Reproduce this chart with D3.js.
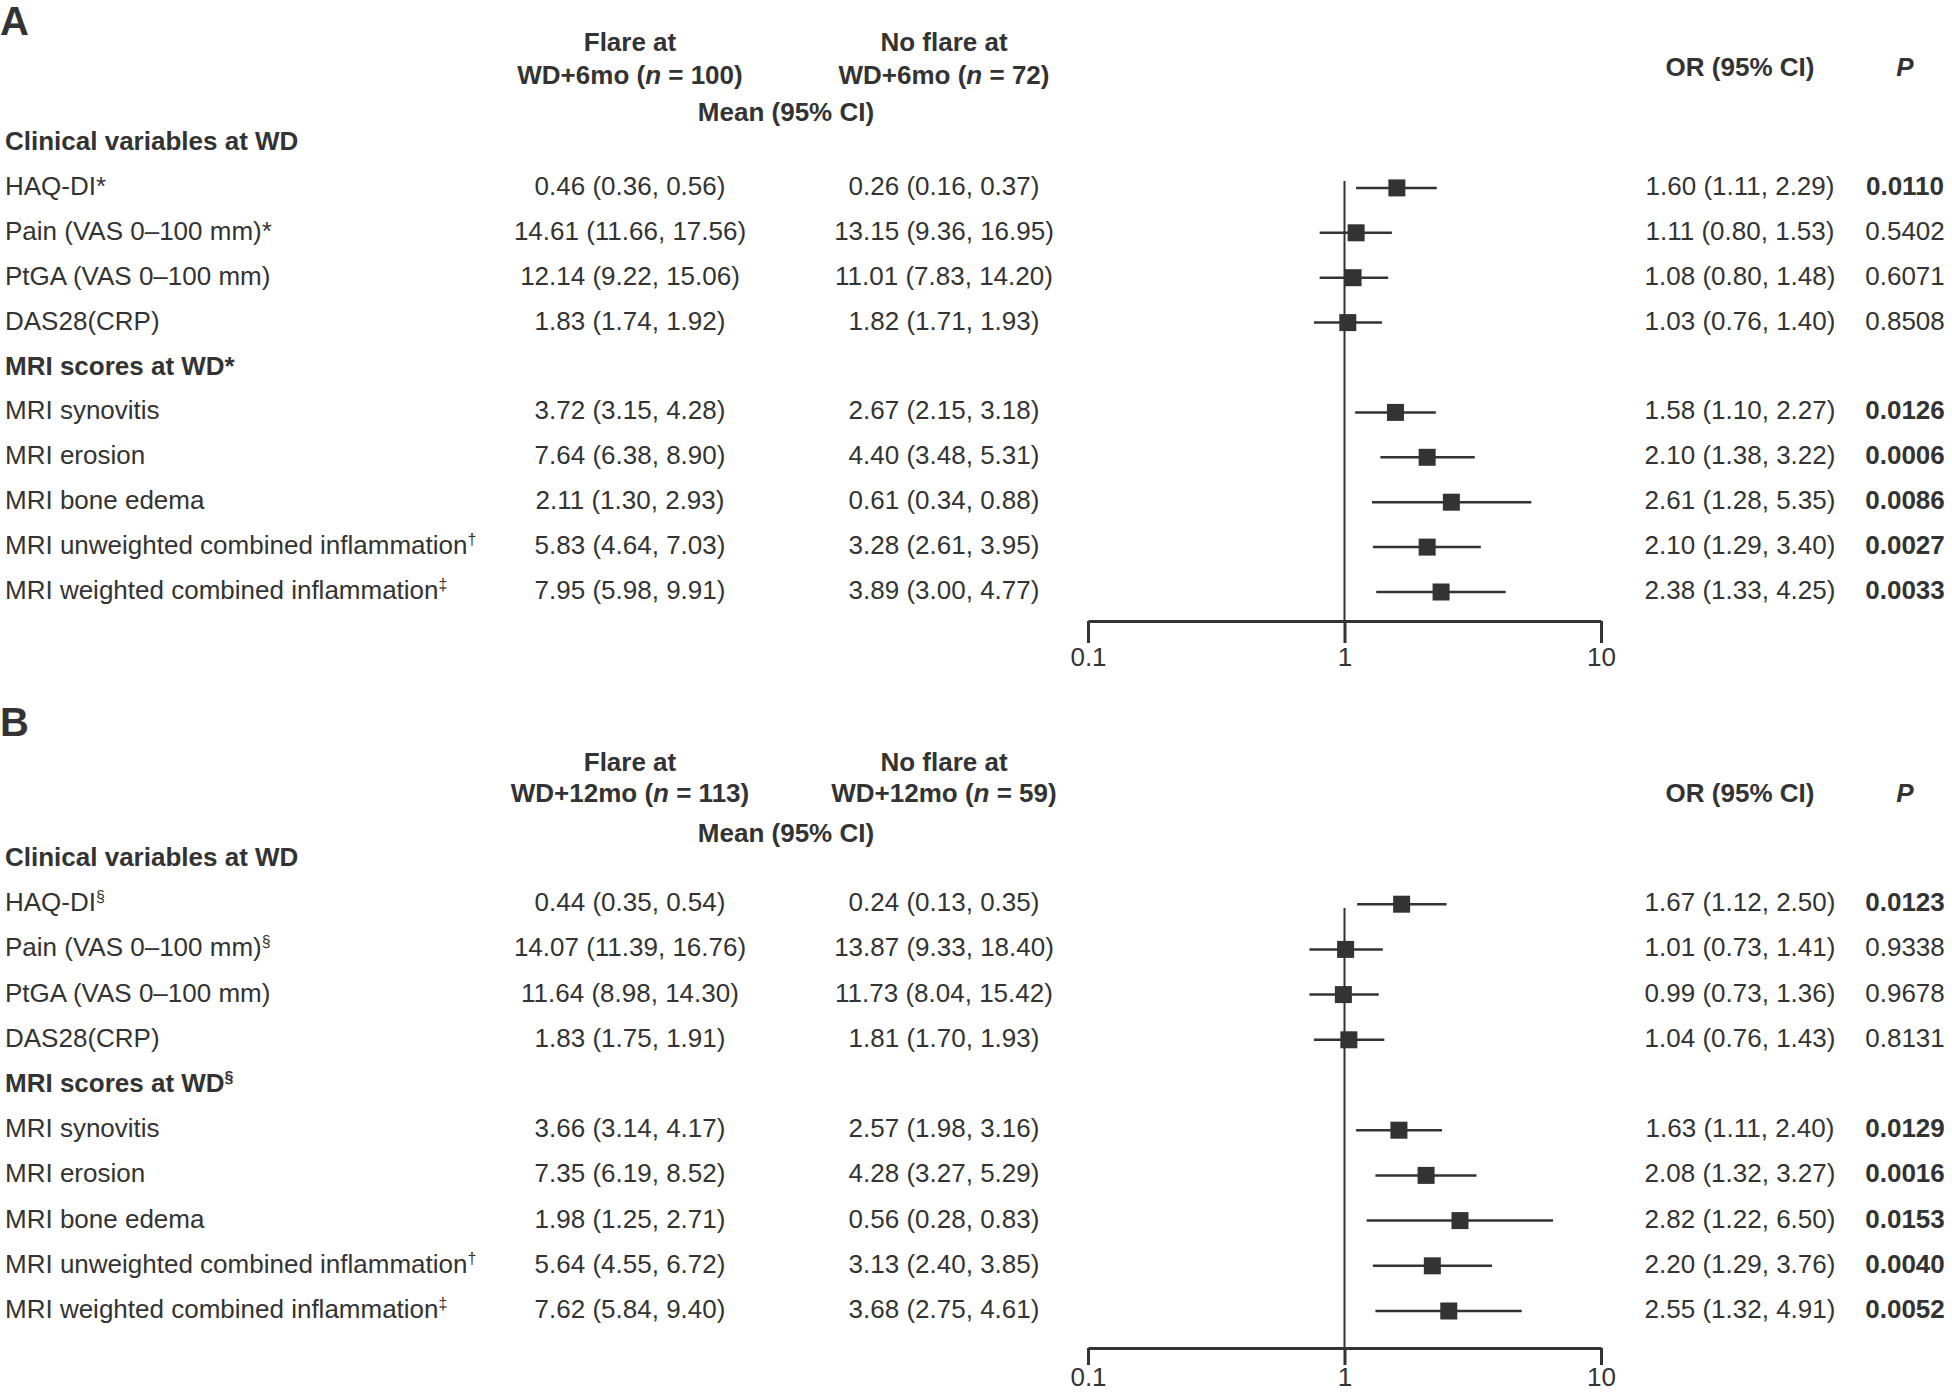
<!DOCTYPE html>
<html>
<head>
<meta charset="utf-8">
<script src="https://cdn.jsdelivr.net/npm/d3@7"></script>
<style>
  body { margin: 0; background: #fff; }
  svg text { font-family: "Liberation Sans", Arial, sans-serif; fill: #333; }
</style>
</head>
<body>
<svg id="chart" width="1952" height="1396"></svg>
<script>
//-- DATA --\\
var rowLabels = ["HAQ-DI", "Pain (VAS 0\u2013100 mm)", "PtGA (VAS 0\u2013100 mm)", "DAS28(CRP)",
                 "MRI synovitis", "MRI erosion", "MRI bone edema",
                 "MRI unweighted combined inflammation", "MRI weighted combined inflammation"];
var sectionLabels = ["Clinical variables at WD", "MRI scores at WD"];
var tickValues = [0.1, 1, 10];

// panel A (WD+6mo)
var marksA = ["*", "*", "", "", "", "", "", "\u2020", "\u2021"];
var sectionMarksA = ["", "*"];
var groupA = ["WD+6mo", "100", "72"];
var flareMeanA = [0.46, 14.61, 12.14, 1.83, 3.72, 7.64, 2.11, 5.83, 7.95];
var flareLoA   = [0.36, 11.66, 9.22, 1.74, 3.15, 6.38, 1.30, 4.64, 5.98];
var flareHiA   = [0.56, 17.56, 15.06, 1.92, 4.28, 8.90, 2.93, 7.03, 9.91];
var noFlareMeanA = [0.26, 13.15, 11.01, 1.82, 2.67, 4.40, 0.61, 3.28, 3.89];
var noFlareLoA   = [0.16, 9.36, 7.83, 1.71, 2.15, 3.48, 0.34, 2.61, 3.00];
var noFlareHiA   = [0.37, 16.95, 14.20, 1.93, 3.18, 5.31, 0.88, 3.95, 4.77];
var orA   = [1.60, 1.11, 1.08, 1.03, 1.58, 2.10, 2.61, 2.10, 2.38];
var orLoA = [1.11, 0.80, 0.80, 0.76, 1.10, 1.38, 1.28, 1.29, 1.33];
var orHiA = [2.29, 1.53, 1.48, 1.40, 2.27, 3.22, 5.35, 3.40, 4.25];
var pA    = [0.0110, 0.5402, 0.6071, 0.8508, 0.0126, 0.0006, 0.0086, 0.0027, 0.0033];

// panel B (WD+12mo)
var marksB = ["\u00a7", "\u00a7", "", "", "", "", "", "\u2020", "\u2021"];
var sectionMarksB = ["", "\u00a7"];
var groupB = ["WD+12mo", "113", "59"];
var flareMeanB = [0.44, 14.07, 11.64, 1.83, 3.66, 7.35, 1.98, 5.64, 7.62];
var flareLoB   = [0.35, 11.39, 8.98, 1.75, 3.14, 6.19, 1.25, 4.55, 5.84];
var flareHiB   = [0.54, 16.76, 14.30, 1.91, 4.17, 8.52, 2.71, 6.72, 9.40];
var noFlareMeanB = [0.24, 13.87, 11.73, 1.81, 2.57, 4.28, 0.56, 3.13, 3.68];
var noFlareLoB   = [0.13, 9.33, 8.04, 1.70, 1.98, 3.27, 0.28, 2.40, 2.75];
var noFlareHiB   = [0.35, 18.40, 15.42, 1.93, 3.16, 5.29, 0.83, 3.85, 4.61];
var orB   = [1.67, 1.01, 0.99, 1.04, 1.63, 2.08, 2.82, 2.20, 2.55];
var orLoB = [1.12, 0.73, 0.73, 0.76, 1.11, 1.32, 1.22, 1.29, 1.32];
var orHiB = [2.50, 1.41, 1.36, 1.43, 2.40, 3.27, 6.50, 3.76, 4.91];
var pB    = [0.0123, 0.9338, 0.9678, 0.8131, 0.0129, 0.0016, 0.0153, 0.0040, 0.0052];

//-- LAYOUT --\\
var fontSize = 26;
var ink = "#333";
var labelX = 5, flareX = 630, noFlareX = 944, meanX = 786, orX = 1740, pX = 1905;
var boxSize = 17;
var textDrop = 7; // baseline offset below row centre

var svg = d3.select("#chart");
var x = d3.scaleLog().domain([0.1, 10]).range([1088, 1601]);

// row slots: 0 = section header, 1..4 clinical, 5 = section header, 6..10 MRI
var slotOfRow = [1, 2, 3, 4, 6, 7, 8, 9, 10];
var slotOfSection = [0, 5];

function fmt2(v) { return v.toFixed(2); }
function ciText(m, lo, hi) { return fmt2(m) + " (" + fmt2(lo) + ", " + fmt2(hi) + ")"; }

/* appends a footnote mark: '*' inline, other symbols as small superscripts */
function addMark(t, mark) {
    if (!mark) return;
    if (mark === "*") {
        t.append("tspan").text("*");
    } else {
        t.append("tspan").attr("dy", -9).style("font-size", "16px").text(mark);
    }
}

function drawPanel(p) {
    var g = svg.append("g");
    var y = function (slot) { return p.rowTop + slot * p.rowStep; };

    // panel letter
    g.append("text").attr("x", 0).attr("y", p.letterY)
        .style("font-size", "40px").style("font-weight", "bold").text(p.letter);

    // column headers
    var hdr = g.append("g").style("font-weight", "bold").style("font-size", fontSize + "px")
        .attr("text-anchor", "middle");
    hdr.append("text").attr("x", flareX).attr("y", p.hdr1Y).text("Flare at");
    hdr.append("text").attr("x", noFlareX).attr("y", p.hdr1Y).text("No flare at");
    [[flareX, p.group[1]], [noFlareX, p.group[2]]].forEach(function (c) {
        var t = hdr.append("text").attr("x", c[0]).attr("y", p.hdr2Y);
        t.append("tspan").text(p.group[0] + " (");
        t.append("tspan").style("font-style", "italic").text("n");
        t.append("tspan").text(" = " + c[1] + ")");
    });
    hdr.append("text").attr("x", meanX).attr("y", p.hdr3Y).text("Mean (95% CI)");
    hdr.append("text").attr("x", orX).attr("y", p.orHdrY).text("OR (95% CI)");
    hdr.append("text").attr("x", pX).attr("y", p.orHdrY).style("font-style", "italic").text("P");

    // section headers
    sectionLabels.forEach(function (s, i) {
        var t = g.append("text").attr("x", labelX).attr("y", y(slotOfSection[i]) + textDrop)
            .style("font-size", fontSize + "px").style("font-weight", "bold");
        t.append("tspan").text(s);
        addMark(t, p.sectionMarks[i]);
    });

    // rows
    rowLabels.forEach(function (lab, i) {
        var ty = y(slotOfRow[i]) + textDrop;
        var t = g.append("text").attr("x", labelX).attr("y", ty).style("font-size", fontSize + "px");
        t.append("tspan").text(lab);
        addMark(t, p.marks[i]);
        g.append("text").attr("x", flareX).attr("y", ty).attr("text-anchor", "middle")
            .style("font-size", fontSize + "px").text(ciText(p.fm[i], p.fl[i], p.fh[i]));
        g.append("text").attr("x", noFlareX).attr("y", ty).attr("text-anchor", "middle")
            .style("font-size", fontSize + "px").text(ciText(p.nm[i], p.nl[i], p.nh[i]));
        g.append("text").attr("x", orX).attr("y", ty).attr("text-anchor", "middle")
            .style("font-size", fontSize + "px").text(ciText(p.or[i], p.ol[i], p.oh[i]));
        g.append("text").attr("x", pX).attr("y", ty).attr("text-anchor", "middle")
            .style("font-size", fontSize + "px").style("font-weight", p.p[i] < 0.05 ? "bold" : "normal")
            .text(p.p[i].toFixed(4));
    });

    // reference line at OR = 1
    g.append("line").attr("x1", x(1)).attr("x2", x(1))
        .attr("y1", p.refTop).attr("y2", p.axisY)
        .attr("stroke", ink).attr("stroke-width", 2);

    // CI lines and boxes
    rowLabels.forEach(function (lab, i) {
        var ry = y(slotOfRow[i]);
        g.append("line").attr("x1", x(p.ol[i])).attr("x2", x(p.oh[i]))
            .attr("y1", ry).attr("y2", ry).attr("stroke", ink).attr("stroke-width", 2.5);
        g.append("rect").attr("x", x(p.or[i]) - boxSize / 2).attr("y", ry - boxSize / 2)
            .attr("width", boxSize).attr("height", boxSize).attr("fill", ink);
    });

    // axis
    var axis = d3.axisBottom(x).tickValues(tickValues)
        .tickFormat(function (d) { return d3.format("")(d); })
        .tickSize(p.tickLen).tickSizeOuter(0).tickPadding(p.tickPad);
    var ag = g.append("g").attr("transform", "translate(0," + p.axisY + ")").call(axis);
    ag.select(".domain").attr("stroke", ink).attr("stroke-width", 3);
    ag.selectAll(".tick line").attr("stroke", ink).attr("stroke-width", 3);
    ag.selectAll(".tick text").attr("fill", ink).style("font-size", fontSize + "px")
        .style("font-family", "'Liberation Sans', Arial, sans-serif");
}

drawPanel({
    letter: "A", letterY: 35, hdr1Y: 51, hdr2Y: 84, hdr3Y: 121, orHdrY: 76,
    rowTop: 143, rowStep: 44.9, refTop: 181, axisY: 621, tickLen: 22, tickPad: 5,
    group: groupA, marks: marksA, sectionMarks: sectionMarksA,
    fm: flareMeanA, fl: flareLoA, fh: flareHiA,
    nm: noFlareMeanA, nl: noFlareLoA, nh: noFlareHiA,
    or: orA, ol: orLoA, oh: orHiA, p: pA
});

drawPanel({
    letter: "B", letterY: 736, hdr1Y: 771, hdr2Y: 802, hdr3Y: 842, orHdrY: 802,
    rowTop: 859, rowStep: 45.2, refTop: 908, axisY: 1348, tickLen: 17, tickPad: 3,
    group: groupB, marks: marksB, sectionMarks: sectionMarksB,
    fm: flareMeanB, fl: flareLoB, fh: flareHiB,
    nm: noFlareMeanB, nl: noFlareLoB, nh: noFlareHiB,
    or: orB, ol: orLoB, oh: orHiB, p: pB
});
</script>
</body>
</html>
